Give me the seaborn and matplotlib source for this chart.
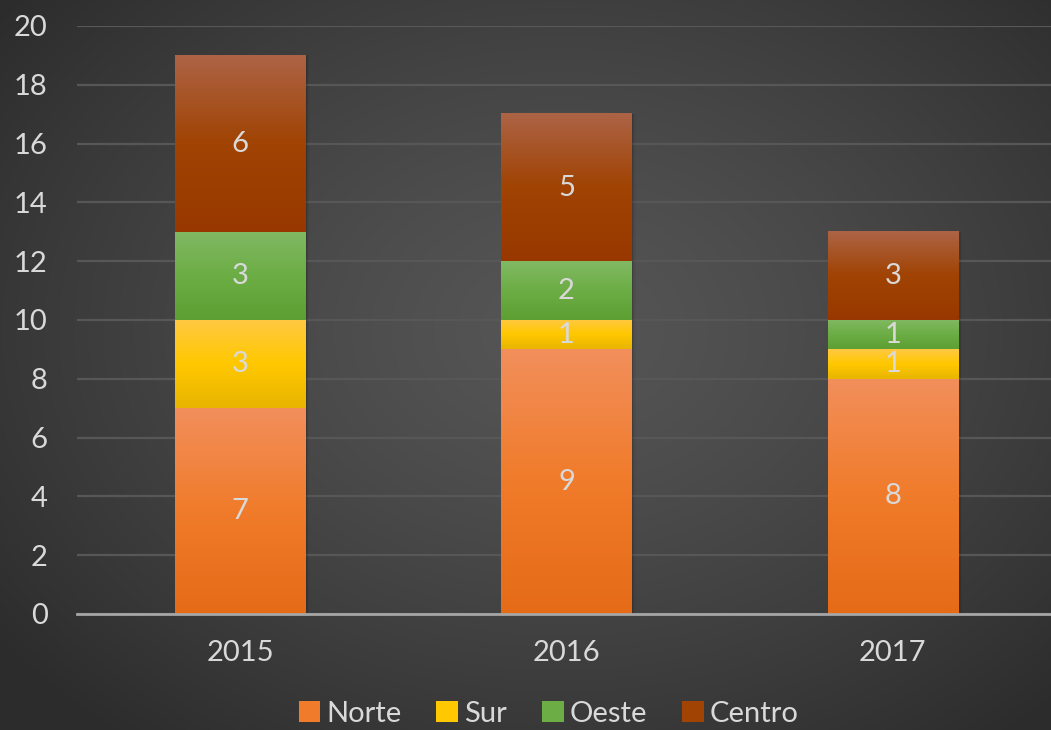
import numpy as np
import matplotlib
matplotlib.use("Agg")
import matplotlib.pyplot as plt
import seaborn as sns
from matplotlib.colors import LinearSegmentedColormap
from matplotlib.patches import Patch, Rectangle

years = ["2015", "2016", "2017"]
series = ["Norte", "Sur", "Oeste", "Centro"]
norte = [7, 9, 8]
sur = [3, 1, 1]
oeste = [3, 2, 1]
centro = [6, 5, 3]
values = [norte, sur, oeste, centro]
yticks = [0, 2, 4, 6, 8, 10, 12, 14, 16, 18, 20]

# gradient colours (top, middle, bottom) for each series
grads = {
    "Norte": ["#F28F5C", "#F07B2A", "#E56B17"],
    "Sur": ["#FFC943", "#FFC800", "#E8B500"],
    "Oeste": ["#82B964", "#6CAD45", "#5E9F33"],
    "Centro": ["#AD6446", "#A04303", "#983800"],
}
mid = {k: v[1] for k, v in grads.items()}
txt = "#D9D9D9"

sns.set_theme(style="dark")
plt.rcParams["font.family"] = ["Lato", "DejaVu Sans"]

W, H = 1051, 730
fig = plt.figure(figsize=(W / 100, H / 100), dpi=100)

# radial background
bg = fig.add_axes([0, 0, 1, 1])
yy, xx = np.mgrid[0:H, 0:W]
d = np.sqrt(((xx - 560) / 700.0) ** 2 + ((yy - 330) / 520.0) ** 2)
d = np.clip(d, 0, 1)
val = 0.335 - 0.16 * d ** 1.3
img = np.dstack([val, val, val])
bg.imshow(img, aspect="auto", extent=[0, 1, 0, 1], origin="upper")
bg.set_axis_off()

ax = fig.add_axes([77 / W, 116 / H, 979 / W, 588 / H])
ax.set_facecolor("none")
ax.patch.set_alpha(0)

df_years = years
cum = np.zeros(len(years))
seg_bounds = []
for name, vals in zip(series, values):
    seg_bounds.append((name, cum.copy(), cum + np.array(vals), vals))
    cum = cum + np.array(vals)

# draw cumulative bars with seaborn (tallest first so lower ones overlay)
bar_patches = {}
for name, low, high, vals in reversed(seg_bounds):
    n0 = len(ax.patches)
    sns.barplot(x=years, y=high, color=mid[name], width=0.4, ax=ax,
                saturation=1, linewidth=0, zorder=3)
    bar_patches[name] = ax.patches[n0:]

ax.set_xlim(-0.5, 2.5)
ax.set_ylim(0, 20)

# shadows and gradient overlays
for name, low, high, vals in seg_bounds:
    cmap = LinearSegmentedColormap.from_list(name, grads[name][::-1])
    grad = np.linspace(0, 1, 256).reshape(-1, 1)
    for p, lo, hi, v in zip(bar_patches[name], low, high, vals):
        x0, w = p.get_x(), p.get_width()
        ax.imshow(grad, cmap=cmap, aspect="auto", origin="lower",
                  extent=[x0, x0 + w, lo, hi], zorder=4, interpolation="bicubic")
        ax.text(x0 + w / 2, (lo + hi) / 2, f"{v}", ha="center", va="center",
                color=txt, fontsize=21, zorder=6)
# drop shadow behind bar stacks
for p, top in zip(bar_patches["Norte"], cum):
    x0, w = p.get_x(), p.get_width()
    for i, a in enumerate([0.10, 0.07, 0.04]):
        ax.add_patch(Rectangle((x0 + 0.004 * (i + 1), 0), w, top + 0.05 * (i + 1) * 0,
                               facecolor="black", alpha=a, linewidth=0, zorder=2.5))
ax.set_xlim(-0.5, 2.5)
ax.set_ylim(0, 20)

ax.set_yticks(yticks)
ax.grid(axis="y", color="#575757", linewidth=1.6, zorder=0)
ax.grid(axis="x", visible=False)
ax.set_axisbelow(True)
for s in ["top", "right", "left"]:
    ax.spines[s].set_visible(False)
ax.spines["bottom"].set_color("#A6A6A6")
ax.spines["bottom"].set_linewidth(2)
ax.spines["bottom"].set_zorder(7)
ax.tick_params(axis="both", length=0, colors=txt, labelsize=21)
ax.tick_params(axis="y", pad=21)
ax.tick_params(axis="x", pad=19)
ax.set_xlabel("")
ax.set_ylabel("")

handles = [Patch(facecolor=mid[n], edgecolor="none", label=n) for n in series]
leg = fig.legend(handles=handles, loc="center", bbox_to_anchor=(0.522, 0.022),
                 ncol=4, frameon=False, fontsize=21, labelcolor=txt,
                 handlelength=0.75, handleheight=0.75, handletextpad=0.2,
                 columnspacing=1.2)

fig.savefig("out.png", dpi=100)
